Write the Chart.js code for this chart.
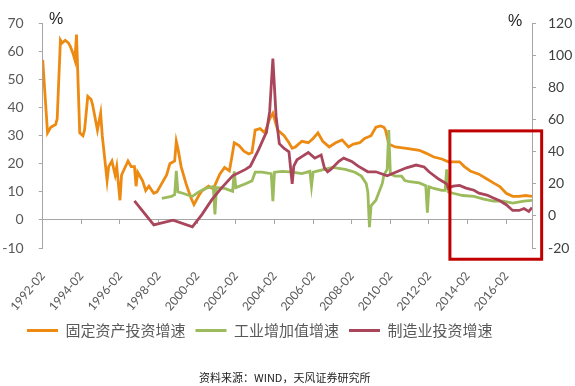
<!DOCTYPE html>
<html>
<head>
<meta charset="utf-8">
<script src="https://cdn.jsdelivr.net/npm/chart.js@4"></script>
<style>
html,body{margin:0;padding:0;background:#fff;}
#wrap{position:relative;width:575px;height:386px;overflow:hidden;}
canvas{position:absolute;left:0;top:0;}
.pct{position:absolute;font-family:"Liberation Sans",Arial,sans-serif;font-size:16px;color:#222;}
#src{position:absolute;left:199px;top:369px;font-family:"Noto Sans CJK SC",sans-serif;font-size:11px;color:#222;white-space:nowrap;}
</style>
</head>
<body>
<div id="wrap">
<canvas id="c" width="575" height="386"></canvas>
<div class="pct" style="left:49px;top:10px;">%</div>
<div class="pct" style="left:508px;top:12px;">%</div>
<div id="src">资料来源：WIND，天风证券研究所</div>
</div>
<script>
// ---- data ----
const seriesNames = ['固定资产投资增速', '工业增加值增速', '制造业投资增速'];
const xStart = '1992-02';
const xEnd = '2017-06';
const xTickStep = 24; // months between labels

const faiDates = ['1992-02','1992-05','1992-07','1992-10','1992-11','1993-01','1993-02','1993-04','1993-06','1993-07','1993-09','1993-10','1993-11','1994-01','1994-03','1994-04','1994-06','1994-08','1994-09','1994-12','1995-02','1995-03','1995-06','1995-07','1995-09','1995-11','1995-12','1996-02','1996-03','1996-07','1996-09','1996-11','1996-12','1997-01','1997-04','1997-06','1997-08','1997-11','1998-01','1998-04','1998-07','1998-09','1998-12','1999-01','1999-02','1999-04','1999-07','1999-10','1999-12','2000-03','2000-05','2000-09','2000-12','2001-04','2001-07','2001-10','2001-12','2002-01','2002-04','2002-07','2002-10','2002-12','2003-02','2003-05','2003-08','2003-11','2004-01','2004-04','2004-08','2004-11','2005-01','2005-03','2005-07','2005-11','2006-02','2006-05','2006-08','2006-12','2007-04','2007-08','2007-12','2008-03','2008-07','2008-10','2009-02','2009-05','2009-08','2009-10','2009-11','2010-01','2010-05','2010-12','2011-08','2011-12','2012-05','2012-10','2013-02','2013-09','2013-12','2014-04','2014-09','2015-02','2015-06','2015-10','2016-02','2016-06','2016-10','2017-02','2017-06'];
const faiValues = [57,31,33,34,36,64,63,64,63,62,59,57,66,31,30,32,44,43,41,32,38,30,14,19,21,16,19,7,16,21,19,19,12,17,14,10.5,12,9.5,10,13,16,20,21,28,25.5,19,13,8,5.5,8.7,10.4,12,11,16.3,18.7,17.5,24,27.5,26.5,24.5,23.5,24,32,32.5,31,36,38,32,30,27.5,25.5,26,28,27.5,29,31,28,26,27.5,28.5,26,27,27.5,29,30,33,33.5,33,32,27,26,25.5,24.8,23.8,22.4,21.7,20.7,20.7,19,17.3,16.3,14.6,13.2,11.9,9.5,8.4,8.4,8.7,8.4];

const ivaDates = ['1998-04','1998-07','1998-10','1998-12','1999-01','1999-02','1999-05','1999-09','1999-11','2000-03','2000-07','2000-12','2001-01','2001-02','2001-07','2001-12','2002-01','2002-02','2002-08','2002-12','2003-02','2003-06','2003-12','2004-01','2004-02','2004-07','2005-01','2005-07','2005-12','2006-01','2006-02','2006-09','2007-02','2007-10','2008-04','2008-08','2008-11','2008-12','2009-01','2009-02','2009-05','2009-09','2009-10','2009-12','2010-01','2010-02','2010-05','2010-09','2010-11','2011-02','2011-08','2011-12','2012-01','2012-02','2012-05','2012-10','2012-12','2013-01','2013-02','2013-05','2013-11','2014-06','2014-12','2015-06','2015-12','2016-06','2017-01','2017-06'];
const ivaValues = [7.7,8,8.4,9,17.5,10,9.5,8.7,8.4,10,11.2,11.9,2,11.5,11.2,10.2,17.3,11.5,12.9,13.9,17,17,16.5,6.7,17,17.3,17,16.5,17.3,12,17,18,18.7,18,17,15.6,13,10,-2.6,5,7,13,16,18,32,16.3,15.6,15.6,14,13.6,13.2,12.2,2.6,11.8,11.2,10.5,10.5,18,10,9.5,8.7,8.4,7.4,6.7,6.7,6,6.7,7];

const mfgDates = ['1996-11','1997-11','1998-11','1999-11','2000-05','2000-11','2001-05','2001-12','2002-08','2002-11','2003-04','2003-08','2003-09','2003-11','2004-01','2004-03','2004-05','2004-08','2004-11','2005-01','2005-02','2005-04','2005-07','2005-11','2006-03','2006-07','2006-09','2006-11','2007-01','2007-06','2007-09','2008-02','2008-06','2008-12','2009-05','2009-12','2010-06','2010-12','2011-06','2011-11','2012-02','2012-08','2013-01','2013-02','2013-05','2013-09','2014-01','2014-06','2014-09','2015-02','2015-06','2015-10','2016-02','2016-06','2016-10','2017-01','2017-04','2017-06'];
const mfgValues = [9.4,-5.6,-2.6,-6.8,1,10,17.3,25,29,31,41,50,52,65,98,62,45,42,40,20,31,35,37,39.5,36,38,30,27.5,29,34,36,34,31,27.5,27.5,25,27.5,30,31.7,30.5,27.5,23,20,17.3,18.5,19,17.3,16,14.2,13,11.2,9.4,7,3.4,3.4,4.6,2.8,5.2];

const leftAxisRange = [-10, 70, 10];
const rightAxisRange = [-20, 120, 20];
const highlightBox = ['2013-03', '2017-12', 53, -27]; // x from, x to, right-axis top, bottom

// ---- helpers ----
function mi(d){const p=d.split('-').map(Number);const s=xStart.split('-').map(Number);return (p[0]-s[0])*12+(p[1]-s[1]);}
function lab(v){const s=xStart.split('-').map(Number);const t=s[0]*12+(s[1]-1)+v;const y=Math.floor(t/12),m=t%12+1;return y+'-'+String(m).padStart(2,'0');}
function pts(ds,vs){return ds.map((d,k)=>({x:mi(d),y:vs[k]}));}

const colors = ['#EC8A12', '#9CBB5C', '#A9465C'];
const axisGray = '#A6A6A6';
const xMax = mi(xEnd);
const keepStep = s => { s.ticks = s.ticks.filter(t => t.value % xTickStep === 0); };

const boxPlugin = {
  id: 'boxPlugin',
  afterLayout(chart){
    // legend row starts a little right of the canvas edge
    if (chart.legend) { chart.legend.left += 17; chart.legend.right += 17; }
  },
  afterDraw(chart){
    const x = chart.scales.x, y = chart.scales.y2, ctx = chart.ctx;
    const x1 = x.getPixelForValue(mi(highlightBox[0])), x2 = x.getPixelForValue(mi(highlightBox[1]));
    const y1 = y.getPixelForValue(highlightBox[2]), y2 = y.getPixelForValue(highlightBox[3]);
    ctx.save();
    ctx.strokeStyle = '#C00000';
    ctx.lineWidth = 3;
    ctx.strokeRect(x1, y1, x2 - x1, y2 - y1);
    ctx.restore();
  }
};

new Chart(document.getElementById('c'), {
  type: 'line',
  data: {
    datasets: [
      {label: seriesNames[0], data: pts(faiDates, faiValues), borderColor: colors[0], backgroundColor: colors[0], yAxisID: 'y', order: 3},
      {label: seriesNames[1], data: pts(ivaDates, ivaValues), borderColor: colors[1], backgroundColor: colors[1], yAxisID: 'y', order: 2},
      {label: seriesNames[2], data: pts(mfgDates, mfgValues), borderColor: colors[2], backgroundColor: colors[2], yAxisID: 'y2', order: 1}
    ]
  },
  options: {
    responsive: false,
    animation: false,
    devicePixelRatio: 1,
    elements: {line: {borderWidth: 2.8, tension: 0}, point: {radius: 0}},
    layout: {padding: {left: 0, right: 0, top: 13, bottom: 38}},
    plugins: {
      tooltip: {enabled: false},
      legend: {
        position: 'bottom',
        align: 'start',
        labels: {
          boxWidth: 31, boxHeight: 3, padding: 10,
          color: '#595959',
          font: {family: '"Noto Sans CJK SC", sans-serif', size: 15},
          sort: (a, b) => a.datasetIndex - b.datasetIndex,
          generateLabels: (chart) => chart.data.datasets.map((d, i) => ({
            text: d.label, fillStyle: d.borderColor, strokeStyle: d.borderColor, lineWidth: 0,
            hidden: false, datasetIndex: i, fontColor: '#595959'
          }))
        }
      }
    },
    scales: {
      x: {
        type: 'linear', position: 'bottom', min: 0, max: xMax,
        grid: {display: false}, border: {display: false},
        afterBuildTicks: keepStep,
        afterFit: s => { s.height = 65; },
        ticks: {
          stepSize: xTickStep, includeBounds: false, autoSkip: false,
          minRotation: 50, maxRotation: 50, padding: 13,
          color: '#595959', font: {family: 'Lato, "Liberation Sans", sans-serif', size: 12},
          callback: v => lab(v)
        }
      },
      x0: {
        type: 'linear', position: {y: 0}, min: 0, max: xMax,
        grid: {drawOnChartArea: false, drawTicks: true, tickLength: 4, color: axisGray},
        border: {display: true, color: axisGray, width: 1},
        afterBuildTicks: keepStep,
        ticks: {stepSize: xTickStep, includeBounds: false, autoSkip: false, maxRotation: 0, callback: () => ''}
      },
      y: {
        position: 'left', min: leftAxisRange[0], max: leftAxisRange[1],
        grid: {drawOnChartArea: false, tickLength: 4, color: axisGray},
        border: {display: true, color: axisGray},
        afterFit: s => { s.width = 40; },
        ticks: {stepSize: leftAxisRange[2], padding: 15, color: '#595959', font: {family: 'Lato, "Liberation Sans", sans-serif', size: 14}}
      },
      y2: {
        position: 'right', min: rightAxisRange[0], max: rightAxisRange[1],
        grid: {drawOnChartArea: false, tickLength: 4, color: axisGray},
        border: {display: true, color: axisGray},
        afterFit: s => { s.width = 43; },
        ticks: {stepSize: rightAxisRange[2], padding: 12, color: '#404040', font: {family: 'Lato, "Liberation Sans", sans-serif', size: 14}}
      }
    }
  },
  plugins: [boxPlugin]
});
</script>
</body>
</html>
